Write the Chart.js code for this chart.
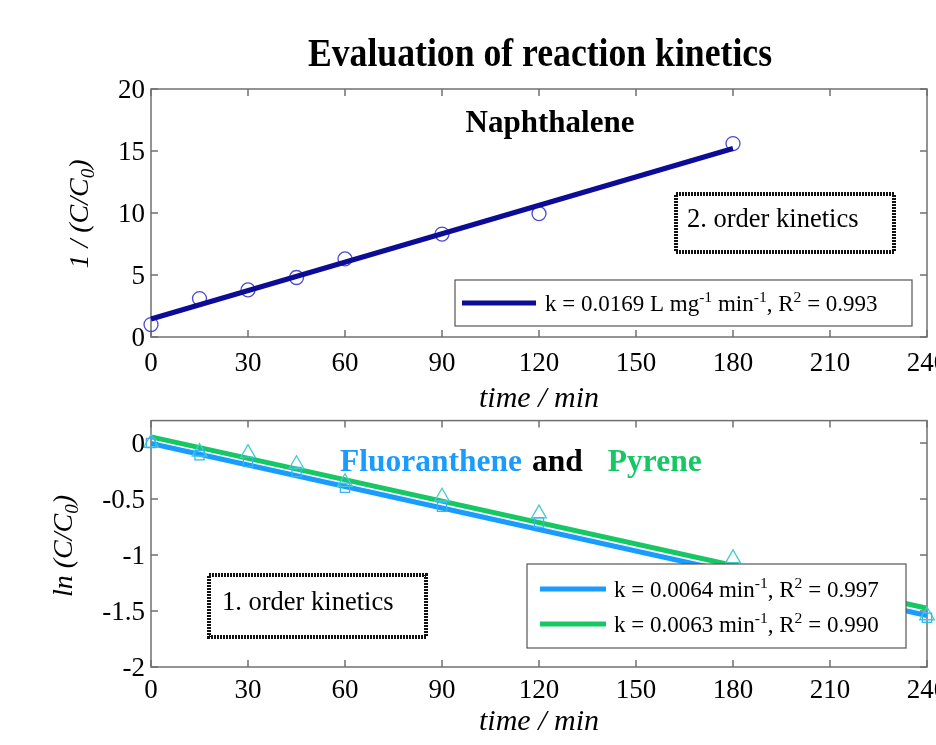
<!DOCTYPE html>
<html>
<head>
<meta charset="utf-8">
<script src="https://cdn.jsdelivr.net/npm/chart.js@4.4.1/dist/chart.umd.min.js"></script>
<style>
  html, body { margin: 0; padding: 0; background: #fff; overflow: hidden; width: 936px; height: 745px; }
  canvas { position: absolute; left: 0; }
  #topChart { top: 0; }
  #bottomChart { top: 400px; }
</style>
</head>
<body>
<canvas id="topChart" width="960" height="420"></canvas>
<canvas id="bottomChart" width="960" height="345"></canvas>
<script>
// ---- data ----
const mainTitle = 'Evaluation of reaction kinetics';
const timeTicks = [0, 30, 60, 90, 120, 150, 180, 210, 240];
const timeTickLabels = ['0', '30', '60', '90', '120', '150', '180', '210', '240'];

// Naphthalene, second-order plot: 1/(C/C0) vs time
const naphTime = [0, 15, 30, 45, 60, 90, 120, 180];
const naphInvC = [1.0, 3.1, 3.8, 4.8, 6.3, 8.3, 9.95, 15.6];
const naphFitTime = [0, 180];
const naphFitVal = [1.45, 15.2];
const naphTicksY = [0, 5, 10, 15, 20];
const naphTickLabelsY = ['0', '5', '10', '15', '20'];
const naphLegend = 'k = 0.0169 L mg^{-1} min^{-1}, R^{2} = 0.993';

// Fluoranthene and Pyrene, first-order plot: ln(C/C0) vs time
const pahTime = [0, 15, 30, 45, 60, 90, 120, 180, 240];
const fluoLnC = [0, -0.11, -0.17, -0.26, -0.40, -0.57, -0.71, -1.12, -1.56];
const pyrLnC = [0, -0.08, -0.09, -0.19, -0.35, -0.48, -0.63, -1.03, -1.54];
const pahFitTime = [0, 240];
const fluoFitVal = [-0.005, -1.54];
const pyrFitVal = [0.055, -1.475];
const pahTicksY = [-2, -1.5, -1, -0.5, 0];
const pahTickLabelsY = ['-2', '-1.5', '-1', '-0.5', '0'];
const fluoLegend = 'k = 0.0064 min^{-1}, R^{2} = 0.997';
const pyrLegend = 'k = 0.0063 min^{-1}, R^{2} = 0.990';

const SERIF = "'Liberation Serif', 'Times New Roman', serif";
const NAVY = '#0c0c96';
const BLUE = '#1a9cff';
const GREEN = '#16c864';

// ---- text helpers: "^{..}" superscript, "_{..}" subscript ----
function parseRich(str) {
  const out = []; const re = /([\^_])\{([^}]*)\}/g; let last = 0, m;
  while ((m = re.exec(str))) {
    if (m.index > last) out.push({ t: str.slice(last, m.index), mode: 0 });
    out.push({ t: m[2], mode: m[1] === '^' ? 1 : -1 });
    last = re.lastIndex;
  }
  if (last < str.length) out.push({ t: str.slice(last), mode: 0 });
  return out;
}
function drawRich(ctx, str, x, y, o) {
  const size = o.size || 24;
  const sx = o.sx || 1;
  const font = s => `${o.style || 'normal'} ${o.weight || 'normal'} ${s}px ${SERIF}`;
  const segs = parseRich(str);
  let w = 0;
  segs.forEach(g => { ctx.font = font(g.mode ? size * 0.68 : size); g.w = ctx.measureText(g.t).width; w += g.w; });
  ctx.save();
  ctx.translate(x, y);
  if (o.rot) ctx.rotate(o.rot);
  ctx.scale(sx, 1);
  let cx = o.align === 'center' ? -w / 2 : o.align === 'right' ? -w : 0;
  const base = size * 0.34;
  ctx.fillStyle = o.color || '#000';
  ctx.textBaseline = 'alphabetic';
  ctx.textAlign = 'left';
  segs.forEach(g => {
    ctx.font = font(g.mode ? size * 0.68 : size);
    const dy = g.mode === 1 ? -size * 0.40 : g.mode === -1 ? size * 0.22 : 0;
    ctx.fillText(g.t, cx, base + dy);
    cx += g.w;
  });
  ctx.restore();
  return w * sx;
}
function dottedBox(ctx, x0, y0, x1, y1) {
  ctx.save();
  ctx.strokeStyle = '#111';
  ctx.lineWidth = 4;
  ctx.setLineDash([2, 1]);
  ctx.strokeRect(x0, y0, x1 - x0, y1 - y0);
  ctx.restore();
}
function legendBox(ctx, x0, y0, x1, y1, rows, size) {
  ctx.save();
  ctx.fillStyle = '#fff';
  ctx.fillRect(x0, y0, x1 - x0, y1 - y0);
  ctx.strokeStyle = '#555';
  ctx.lineWidth = 1.2;
  ctx.strokeRect(x0, y0, x1 - x0, y1 - y0);
  rows.forEach(r => {
    ctx.strokeStyle = r.color;
    ctx.lineWidth = 5;
    ctx.beginPath(); ctx.moveTo(r.x0, r.y); ctx.lineTo(r.x1, r.y); ctx.stroke();
    drawRich(ctx, r.text, r.tx, r.y, { size: size });
  });
  ctx.restore();
}

// ---- frame, inward ticks and tick labels ----
function drawFrame(chart) {
  const { ctx, chartArea: a, scales: { x, y } } = chart;
  ctx.save();
  ctx.strokeStyle = '#707070';
  ctx.lineWidth = 1.5;
  ctx.strokeRect(a.left, a.top, a.right - a.left, a.bottom - a.top);
  const L = 7;
  ctx.beginPath();
  x.ticks.forEach(t => {
    const px = x.getPixelForValue(t.value);
    ctx.moveTo(px, a.bottom); ctx.lineTo(px, a.bottom - L);
    ctx.moveTo(px, a.top); ctx.lineTo(px, a.top + L);
  });
  y.ticks.forEach(t => {
    const py = y.getPixelForValue(t.value);
    ctx.moveTo(a.left, py); ctx.lineTo(a.left + L, py);
    ctx.moveTo(a.right, py); ctx.lineTo(a.right - L, py);
  });
  ctx.stroke();
  ctx.restore();
}
function drawTickLabels(chart, c) {
  const { ctx, chartArea: a, scales: { x, y } } = chart;
  x.ticks.forEach((t, i) => drawRich(ctx, c.xLabels[i], x.getPixelForValue(t.value), a.bottom + c.xGap, { size: c.tickSize, align: 'center' }));
  y.ticks.forEach((t, i) => drawRich(ctx, c.yLabels[i], a.left - c.yGap, y.getPixelForValue(t.value), { size: c.tickSize, align: 'right' }));
}

const pts = (xs, ys) => xs.map((v, i) => ({ x: v, y: ys[i] }));

function scalesFor(yMin, yMax, yTicks, xHeight) {
  return {
    x: {
      type: 'linear', min: 0, max: 240,
      afterBuildTicks: s => { s.ticks = timeTicks.map(v => ({ value: v })); },
      ticks: { display: false }, grid: { display: false }, border: { display: false },
      afterFit: s => { s.height = xHeight; }
    },
    y: {
      type: 'linear', min: yMin, max: yMax,
      afterBuildTicks: s => { s.ticks = yTicks.map(v => ({ value: v })); },
      ticks: { display: false }, grid: { display: false }, border: { display: false },
      afterFit: s => { s.width = 151; }
    }
  };
}

// ---- top chart: Naphthalene ----
new Chart(document.getElementById('topChart'), {
  type: 'scatter',
  data: {
    datasets: [
      {
        type: 'line', label: naphLegend, data: pts(naphFitTime, naphFitVal),
        borderColor: NAVY, borderWidth: 5, pointRadius: 0, fill: false, order: 0, clip: false
      },
      {
        label: 'Naphthalene', data: pts(naphTime, naphInvC),
        pointStyle: 'circle', pointRadius: 7, pointBorderWidth: 1.3,
        pointBorderColor: '#4b4bd0', pointBackgroundColor: 'rgba(0,0,0,0)', order: 1, clip: false
      }
    ]
  },
  options: {
    responsive: false, animation: false, devicePixelRatio: 1,
    layout: { padding: { top: 89, right: 33, left: 0, bottom: 0 } },
    plugins: { legend: { display: false }, title: { display: false }, tooltip: { enabled: false } },
    scales: scalesFor(0, 20, naphTicksY, 83)
  },
  plugins: [{
    id: 'naphDecor',
    beforeDatasetsDraw(chart) { drawFrame(chart); },
    afterDatasetsDraw(chart) {
      const ctx = chart.ctx;
      drawTickLabels(chart, { xLabels: timeTickLabels, yLabels: naphTickLabelsY, tickSize: 27, xGap: 25, yGap: 6 });
      drawRich(ctx, mainTitle, 540, 52, { size: 41, weight: 'bold', sx: 0.87, align: 'center' });
      drawRich(ctx, 'Naphthalene', 550, 121, { size: 31, weight: 'bold', align: 'center' });
      drawRich(ctx, 'time / min', 539, 397, { size: 30, style: 'italic', align: 'center' });
      drawRich(ctx, '1 / (C/C_{0})', 78, 214, { size: 28, style: 'italic', align: 'center', rot: -Math.PI / 2 });
      dottedBox(ctx, 676, 194, 894, 252);
      drawRich(ctx, '2. order kinetics', 687, 218, { size: 26.5 });
      legendBox(ctx, 455, 280, 912, 326, [
        { color: NAVY, x0: 462, x1: 536, y: 303, tx: 545, text: naphLegend }
      ], 23);
    }
  }]
});

// ---- bottom chart: Fluoranthene and Pyrene ----
new Chart(document.getElementById('bottomChart'), {
  type: 'scatter',
  data: {
    datasets: [
      {
        label: 'Fluoranthene', data: pts(pahTime, fluoLnC),
        pointStyle: 'rect', pointRadius: 6.5, pointBorderWidth: 1.3,
        pointBorderColor: '#3ab4f0', pointBackgroundColor: 'rgba(0,0,0,0)', order: 0, clip: false
      },
      {
        label: 'Pyrene', data: pts(pahTime, pyrLnC),
        pointStyle: 'triangle', pointRadius: 8.5, pointBorderWidth: 1.3,
        pointBorderColor: '#44cccc', pointBackgroundColor: 'rgba(0,0,0,0)', order: 0, clip: false
      },
      {
        type: 'line', label: fluoLegend, data: pts(pahFitTime, fluoFitVal),
        borderColor: BLUE, borderWidth: 5, pointRadius: 0, fill: false, order: 2, clip: false
      },
      {
        type: 'line', label: pyrLegend, data: pts(pahFitTime, pyrFitVal),
        borderColor: GREEN, borderWidth: 5, pointRadius: 0, fill: false, order: 1, clip: false
      }
    ]
  },
  options: {
    responsive: false, animation: false, devicePixelRatio: 1,
    layout: { padding: { top: 20.6, right: 33, left: 0, bottom: 0 } },
    plugins: { legend: { display: false }, title: { display: false }, tooltip: { enabled: false } },
    scales: scalesFor(-2, 0.2, pahTicksY, 78)
  },
  plugins: [{
    id: 'pahDecor',
    beforeDatasetsDraw(chart) { drawFrame(chart); },
    afterDatasetsDraw(chart) {
      const ctx = chart.ctx;
      drawTickLabels(chart, { xLabels: timeTickLabels, yLabels: pahTickLabelsY, tickSize: 27, xGap: 22, yGap: 6 });
      const w1 = drawRich(ctx, 'Fluoranthene', 340, 60, { size: 31.5, weight: 'bold', color: BLUE });
      const w2 = drawRich(ctx, 'and', 340 + w1 + 10, 60, { size: 31.5, weight: 'bold' });
      drawRich(ctx, 'Pyrene', 340 + w1 + 10 + w2 + 25, 60, { size: 31.5, weight: 'bold', color: GREEN });
      drawRich(ctx, 'time / min', 539, 320, { size: 30, style: 'italic', align: 'center' });
      drawRich(ctx, 'ln (C/C_{0})', 62, 146, { size: 28, style: 'italic', align: 'center', rot: -Math.PI / 2 });
      dottedBox(ctx, 209, 175, 426, 237);
      drawRich(ctx, '1. order kinetics', 222, 201, { size: 26.5 });
      legendBox(ctx, 527, 164, 906, 248, [
        { color: BLUE, x0: 540, x1: 606, y: 189, tx: 614, text: fluoLegend },
        { color: GREEN, x0: 540, x1: 606, y: 224, tx: 614, text: pyrLegend }
      ], 23);
    }
  }]
});
</script>
</body>
</html>
